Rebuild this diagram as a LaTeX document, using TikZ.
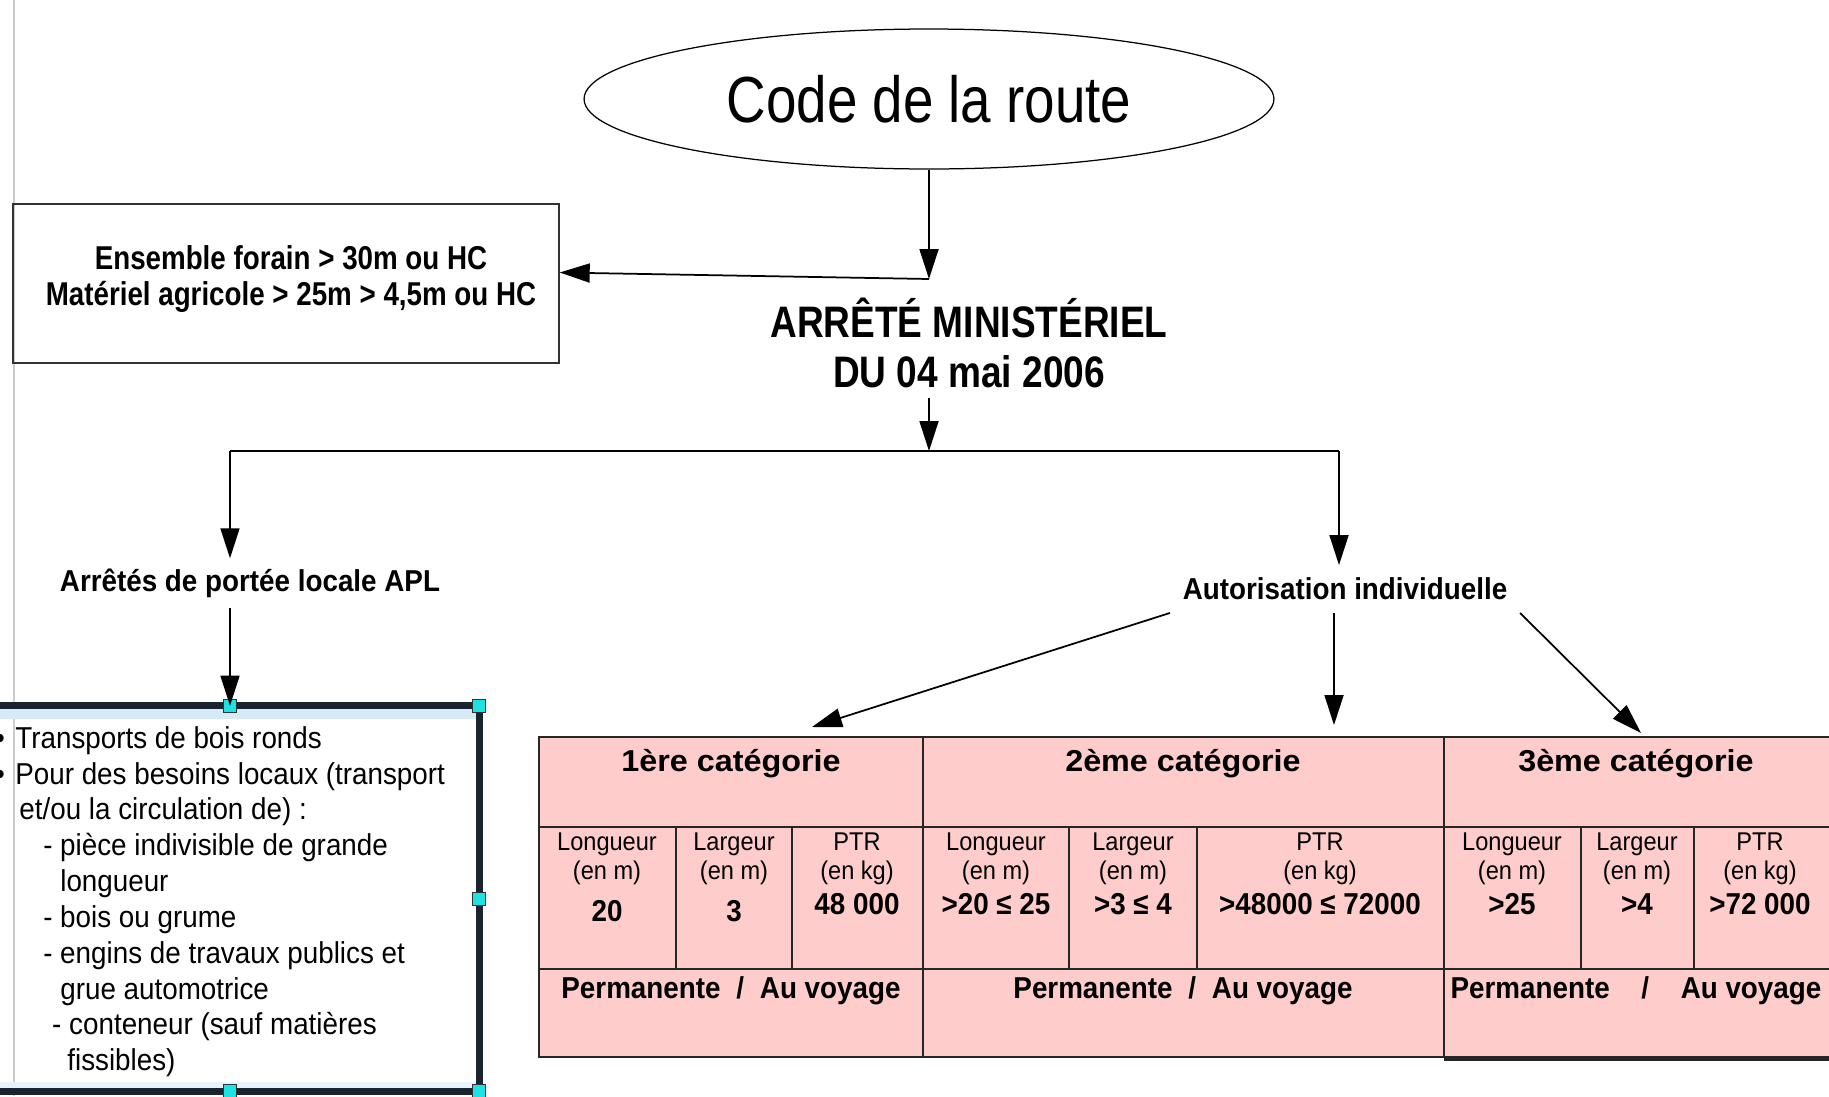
\documentclass[tikz,border=0pt]{standalone}
\usepackage{fontspec}
\setmainfont{Liberation Sans}[FakeStretch=0.92]
\newfontfamily\largefont{Liberation Sans}[FakeStretch=1.07]
\newfontfamily\etroitfont{Liberation Sans}[FakeStretch=0.84]
\usetikzlibrary{arrows.meta,shapes.geometric}
\definecolor{rose}{RGB}{255,204,204}
\definecolor{turquoise}{RGB}{30,225,225}
\definecolor{cadre}{RGB}{26,36,48}
\definecolor{bleuclair}{RGB}{214,234,250}

\begin{document}
\begin{tikzpicture}[x=0.02cm, y=0.02cm,
    fleche/.style={line width=0.035cm, -{Triangle[length=0.6cm,width=0.38cm]}},
    trait/.style={line width=0.035cm},
    grille/.style={black!85, line width=0.03cm},
    poignee/.style={draw=black!80, fill=turquoise, minimum size=0.26cm, inner sep=0pt, line width=0.02cm},
    petit/.style={anchor=base, inner sep=0pt, font=\fontsize{14.6}{16}\selectfont},
    valeur/.style={anchor=base, inner sep=0pt, font=\bfseries\fontsize{17.2}{20}\selectfont}]
    \fill[white] (0,0) rectangle (1829,-1096);
    \useasboundingbox (0,0) rectangle (1829,-1096);
    \draw[black!20, line width=0.04cm] (14,0) -- (14,-1096);

    \node[draw, ellipse, line width=0.025cm, minimum width=13.8cm, minimum height=2.8cm, inner sep=0pt, font=\etroitfont\fontsize{37.1}{44}\selectfont] (code) at (929,-99) {Code de la route};
    \node[draw=black!80, line width=0.03cm, minimum width=10.92cm, minimum height=3.18cm] (forain) at (286,-283.5) {};
    \node[align=center, inner sep=0pt, font=\etroitfont\bfseries\fontsize{18.8}{21}\selectfont] (forainTexte) at (291,-279) {Ensemble forain > 30m ou HC\\Matériel agricole > 25m > 4,5m ou HC};
    \node[align=center, inner sep=0.2cm, font=\etroitfont\bfseries\fontsize{25.1}{28.5}\selectfont] (arrete) at (969,-342.5) {ARRÊTÉ MINISTÉRIEL\\DU 04 mai 2006};
    \node[inner sep=0.2cm, font=\bfseries\fontsize{17.2}{20}\selectfont] (apl) at (250,-583) {Arrêtés de portée locale APL};
    \node[inner sep=0.25cm, font=\bfseries\fontsize{17.2}{20}\selectfont] (autor) at (1345,-589) {Autorisation individuelle};

    \path node[minimum width=9.96cm, minimum height=7.7cm, inner sep=0pt] (liste) at (230,-898.5) {};
    \fill[bleuclair] ([yshift=-0.06cm]liste.north west) rectangle ([yshift=-0.27cm]liste.north east);
    \fill[bleuclair!60] ([yshift=0.06cm]liste.south west) rectangle ([yshift=0.18cm]liste.south east);
    \draw[cadre, line width=0.13cm] (liste.north west) rectangle (liste.south east);
    \foreach \a in {north, north east, east, south east, south, south west, west, north west}
        \node[poignee] at (liste.\a) {};
    \node[anchor=north west, align=left, inner sep=0pt, font=\fontsize{17.2}{20.4}\selectfont] (puces) at (15,-726) {\llap{\textbullet\hspace{6pt}}Transports de bois ronds\\
        \llap{\textbullet\hspace{6pt}}Pour des besoins locaux (transport\\
        \hspace*{2.3pt}et/ou la circulation de) :\\
        \hspace*{15.9pt}- pièce indivisible de grande\\
        \hspace*{25.6pt}longueur\\
        \hspace*{15.9pt}- bois ou grume\\
        \hspace*{15.9pt}- engins de travaux publics et\\
        \hspace*{25.6pt}grue automotrice\\
        \hspace*{21pt}- conteneur (sauf matières\\
        \hspace*{29.6pt}fissibles)};

    \fill[rose] (539,-737) rectangle (1840,-1057);
    \draw[grille] (539,-737) rectangle (1840,-1057);
    \draw[grille] (539,-827) -- (1840,-827) (539,-969) -- (1840,-969);
    \foreach \x in {923,1444} \draw[grille] (\x,-737) -- (\x,-1057);
    \foreach \x in {676,792,1069,1197,1581,1694} \draw[grille] (\x,-827) -- (\x,-969);
    \draw[black!85, line width=0.06cm] (1444,-1059) -- (1840,-1059);

    \foreach \xc/\nom/\texte in {731/cat1/1ère catégorie, 1183/cat2/2ème catégorie, 1636/cat3/3ème catégorie}
        \node[anchor=base, inner sep=0pt, font=\largefont\bfseries\fontsize{17.2}{20}\selectfont] (\nom) at (\xc,-771) {\texte};
    \foreach \xc/\titre/\unite/\val/\yv [count=\i] in {607/Longueur/(en m)/20/921, 734/Largeur/(en m)/3/921, 857/PTR/(en kg)/48 000/914,
        996/Longueur/(en m)/>20 ≤ 25/914, 1133/Largeur/(en m)/>3 ≤ 4/914, 1320/PTR/(en kg)/>48000 ≤ 72000/914,
        1512/Longueur/(en m)/>25/914, 1637/Largeur/(en m)/>4/914, 1760/PTR/(en kg)/>72 000/914}
    {
        \node[petit] (titre\i) at (\xc,-850) {\titre};
        \node[petit] (unite\i) at (\xc,-879) {\unite};
        \node[valeur] (val\i) at (\xc,-\yv) {\val};
    }
    \foreach \xc/\ecart [count=\i] in {731/9pt, 1183/9pt, 1636/18pt}
        \node[anchor=base, inner sep=0pt, font=\bfseries\fontsize{17.2}{20}\selectfont] (duree\i) at (\xc,-998) {Permanente\hspace{\ecart}/\hspace{\ecart}Au voyage};

    \coordinate (jonction) at (929,-279);
    \coordinate (barreG) at (230,-451);
    \coordinate (barreD) at (1339,-451);
    \coordinate (cible1) at (812,-727);
    \coordinate (cible2) at (1334,-725);
    \coordinate (cible3) at (1641,-733);

    \draw[fleche] (code) -- (jonction);
    \draw[fleche] (jonction) -- ([yshift=0.22cm]forain.east);
    \draw[fleche] (arrete.south -| code) -- (code |- barreG);
    \draw[trait] (barreG) -- (barreD);
    \draw[fleche] (barreG) -- (apl.north -| barreG);
    \draw[fleche] (barreD) -- (autor.north -| barreD);
    \draw[fleche] (apl.south -| barreG) -- (liste.north);
    \draw[fleche] (autor.south west) -- (cible1);
    \draw[fleche] (autor.south -| cible2) -- (cible2);
    \draw[fleche] (autor.south east) -- (cible3);
\end{tikzpicture}
\end{document}
